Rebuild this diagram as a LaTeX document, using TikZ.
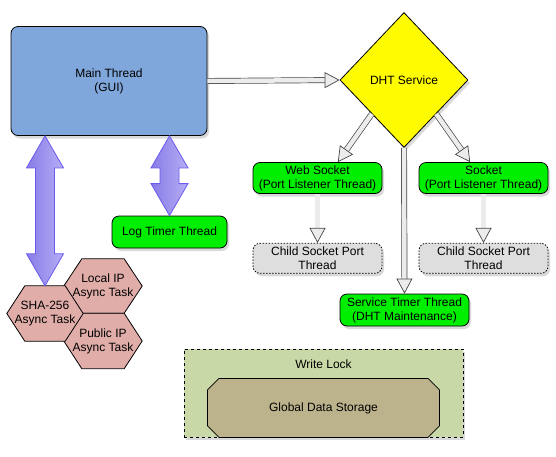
\documentclass[tikz,border=0pt]{standalone}
\usepackage{fontspec}
\setmainfont{Liberation Sans}
\usetikzlibrary{arrows.meta,positioning,shapes,calc,shadows,backgrounds}

\definecolor{guiblue}{HTML}{7FA7DC}
\definecolor{dhtyellow}{HTML}{FFFB00}
\definecolor{threadgreen}{HTML}{00EE00}
\definecolor{childgray}{HTML}{DEDEDE}
\definecolor{taskpink}{HTML}{E0ADA9}
\definecolor{lockgreen}{HTML}{C8D8A6}
\definecolor{storetan}{HTML}{BCB38C}
\definecolor{fatline}{HTML}{6A5AF0}
\definecolor{fatleft}{HTML}{877CE6}
\definecolor{fatright}{HTML}{B6AEF6}

\newcommand\fatarrow[2]{%
  \path[fat] let \p1=(#1), \p2=(#2) in
    (\x1,\y1) -- (\x1+18.5pt,\y1-32pt) -- (\x1+9.5pt,\y1-32pt) -- (\x1+9.5pt,\y2+32pt)
    -- (\x1+18.5pt,\y2+32pt) -- (\x1,\y2) -- (\x1-18.5pt,\y2+32pt) -- (\x1-9.5pt,\y2+32pt)
    -- (\x1-9.5pt,\y1-32pt) -- (\x1-18.5pt,\y1-32pt) -- cycle;}
\newcommand\hexagon[1]{%
  \path[hex] (#1.west) -- ([xshift=18pt]#1.north west) -- ([xshift=-18pt]#1.north east)
    -- (#1.east) -- ([xshift=-18pt]#1.south east) -- ([xshift=18pt]#1.south west) -- cycle;}

\begin{document}
\begin{tikzpicture}[x=1pt,y=-1pt,node distance=49pt,
    font=\fontsize{12}{14}\selectfont,
    shade/.style={drop shadow={opacity=.3,shadow xshift=2pt,shadow yshift=-3pt}},
    box/.style={draw,line width=0.8pt,rounded corners=7pt,align=center,inner sep=0pt,shade},
    thread/.style={box,fill=threadgreen,minimum width=129pt,minimum height=31pt},
    child/.style={box,fill=childgray,dash pattern=on 1.5pt off 1.5pt,minimum width=129pt,minimum height=30pt},
    task/.style={minimum width=78pt,minimum height=55pt,inner sep=0pt,align=center},
    hex/.style={draw,line width=0.8pt,fill=taskpink},
    hollow/.style={draw=gray!55!black,line width=0.7pt,double=gray!15,double distance=4.5pt,
      -{Triangle[length=15pt,width=16pt,fill=gray!15]}},
    fat/.style={draw=fatline,line width=0.8pt,left color=fatleft,right color=fatright}]
  \useasboundingbox (0,0) rectangle (556,456);

  \node[box,fill=guiblue,minimum width=196pt,minimum height=109pt] (main) at (109,81) {Main Thread\\(GUI)};
  \node[draw,line width=0.8pt,diamond,fill=dhtyellow,minimum width=128pt,minimum height=135pt,inner sep=0pt,shade] (dht) at (404,80) {DHT Service};
  \node[thread] (ws) at (317.5,178) {Web Socket\\(Port Listener Thread)};
  \node[thread] (sock) at (483.5,178) {Socket\\(Port Listener Thread)};
  \node[child,below=of ws] (wschild) {Child Socket Port\\Thread};
  \node[child,below=of sock] (sockchild) {Child Socket Port\\Thread};
  \node[thread,minimum height=32pt] (svc) at (404.5,310) {Service Timer Thread\\(DHT Maintenance)};
  \node[thread,minimum width=115pt,minimum height=32pt] (log) at (169.5,232) {Log Timer Thread};

  \node[task,minimum width=76pt] (sha) at (45,313.5) {SHA-256\\Async Task};
  \node[task,minimum height=54pt] (localip) at (103,286) {Local IP\\Async Task};
  \node[task] (publicip) at (103,341) {Public IP\\Async Task};
  \begin{scope}[on background layer]
    \hexagon{localip}
    \hexagon{publicip}
    \hexagon{sha}
  \end{scope}

  \node[draw,dashed,line width=0.8pt,fill=lockgreen,anchor=north,minimum width=279pt,inner ysep=8pt,
    text height=11pt,text depth=61pt,shade] (lock) at (323.5,349) {Write Lock};
  \node[draw,line width=0.8pt,fill=storetan,chamfered rectangle,chamfered rectangle xsep=8pt,
    minimum width=232pt,minimum height=59pt,above=0pt of lock.south] (store) {Global Data Storage};

  \draw[hollow] (main.east) -- (dht.west);
  \draw[hollow] (dht.south west) -- (ws.38);
  \draw[hollow] (dht.south east) -- (sock.130);
  \draw[hollow] (dht.south) -- (svc.north);
  \draw[hollow] (ws) -- (wschild);
  \draw[hollow] (sock) -- (sockchild);

  \fatarrow{sha.north |- main.south}{sha.north}
  \fatarrow{log.north |- main.south}{log.north}
\end{tikzpicture}
\end{document}
